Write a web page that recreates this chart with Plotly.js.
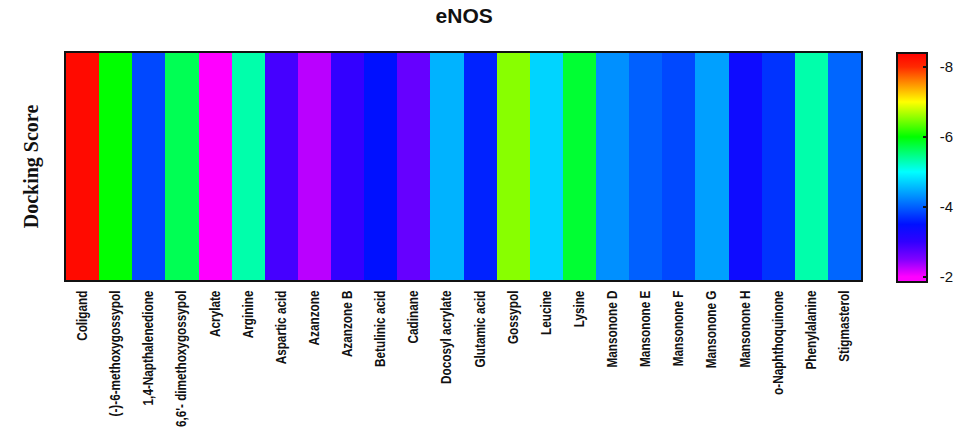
<!DOCTYPE html>
<html>
<head>
<meta charset="utf-8">
<script src="https://cdn.plot.ly/plotly-3.0.1.min.js"></script>
<style>html,body{margin:0;padding:0;background:#fff;}#chart{width:971px;height:433px;}</style>
</head>
<body>
<div id="chart"></div>
<script>
const compounds = ["Coligand", "(-)-6-methoxygossypol", "1,4-Napthalenedione", "6,6'- dimethoxygossypol",
  "Acrylate", "Arginine", "Aspartic acid", "Azanzone", "Azanzone B", "Betulinic acid", "Cadinane",
  "Docosyl acrylate", "Glutamic acid", "Gossypol", "Leucine", "Lysine", "Mansonone D", "Mansonone E",
  "Mansonone F", "Mansonone G", "Mansonone H", "o-Naphthoquinone", "Phenylalanine", "Stigmasterol"];
const dockingScores = [-8.3, -6.0, -3.85, -5.67, -2.0, -5.33, -2.87, -2.27, -2.98, -3.5, -2.66,
  -4.52, -3.61, -6.53, -4.73, -5.8, -4.3, -4.0, -3.85, -4.4, -3.35, -3.72, -5.33, -4.04];
const rowLabel = ["eNOS"];
const colorbarTicks = [-8, -6, -4, -2];
const scoreMin = -8.4, scoreMax = -1.85;

// colour stops of the reference colour bar (score -> colour)
const stopScores = [-8.4, -8.0, -7.6, -7.0, -6.5, -6.0, -5.5, -5.0, -4.5, -4.0, -3.5, -3.0, -2.5, -2.0, -1.85];
const stopColors = ["#ff0000", "#ff2a00", "#ff8000", "#ffff00", "#80ff00", "#00ff00", "#00ff80", "#00ffff",
  "#00b0ff", "#0060ff", "#0010ff", "#3000ff", "#8000ff", "#ff00ff", "#ff00ff"];

// colour bar runs -8 at top to -2 at bottom, so plot the magnitude and label with negatives
const zMin = -scoreMax, zMax = -scoreMin;
const colorscale = stopScores.map((s, i) => [(-s - zMin) / (zMax - zMin), stopColors[i]])
  .sort((a, b) => a[0] - b[0]);
colorscale[0][0] = 0; colorscale[colorscale.length - 1][0] = 1;

const trace = {
  type: 'heatmap',
  x: compounds,
  y: rowLabel,
  z: [dockingScores.map(v => -v)],
  text: [dockingScores.map(v => v.toFixed(2))],
  hovertemplate: '%{x}: %{text}<extra></extra>',
  zmin: zMin, zmax: zMax,
  colorscale: colorscale,
  xgap: 0, ygap: 0,
  colorbar: {
    x: 1.044, xanchor: 'left', xref: 'paper',
    y: 0.4956, yanchor: 'middle',
    len: 1.01, lenmode: 'fraction',
    thickness: 30, thicknessmode: 'pixels',
    xpad: 0, ypad: 0,
    outlinewidth: 2, outlinecolor: '#111',
    tickmode: 'array',
    tickvals: colorbarTicks.map(v => -v),
    ticktext: colorbarTicks.map(v => '  ' + String(v)),
    ticks: 'inside', ticklen: 5, tickwidth: 2, tickcolor: '#111',
    tickfont: {family: 'Arial, Liberation Sans, sans-serif', size: 15, color: '#111'}
  }
};

const layout = {
  width: 971, height: 433,
  margin: {l: 66, r: 109, t: 53, b: 153},
  paper_bgcolor: '#fff', plot_bgcolor: '#fff',
  title: {text: '<b>eNOS</b>', x: 0.478, xanchor: 'center', y: 0.963, yanchor: 'middle',
    font: {family: 'Arial, Liberation Sans, sans-serif', size: 21, color: '#111'}},
  xaxis: {
    type: 'category', tickangle: -90, ticks: '', showgrid: false,
    showline: true, mirror: true, linecolor: '#111', linewidth: 2,
    tickfont: {family: 'Liberation Sans Narrow, Arial Narrow, Liberation Sans, Arial, sans-serif', size: 14, color: '#111', weight: 'bold'},
    ticklabelstandoff: 3
  },
  yaxis: {
    showticklabels: false, ticks: '', showgrid: false,
    showline: true, mirror: true, linecolor: '#111', linewidth: 2,
    title: {text: '<b>Docking Score</b>', standoff: 20,
      font: {family: 'Liberation Serif, DejaVu Serif, serif', size: 20, color: '#111'}}
  }
};

Plotly.newPlot('chart', [trace], layout, {displayModeBar: false, staticPlot: true}).then(gd => {
  // imitate the narrow (condensed) label face of the reference along the text direction
  const narrow = 0.84;
  gd.querySelectorAll('.xtick text').forEach(t => {
    const tr = t.getAttribute('transform') || '';
    const m = tr.match(/rotate\(([-\d.]+),\s*([-\d.]+),\s*([-\d.]+)\)/);
    const cx = m ? +m[2] : +t.getAttribute('x');
    const cy = m ? +m[3] : +t.getAttribute('y');
    t.setAttribute('transform', tr + ` translate(${cx},${cy}) scale(${narrow},1) translate(${-cx},${-cy})`);
  });
});
</script>
</body>
</html>
